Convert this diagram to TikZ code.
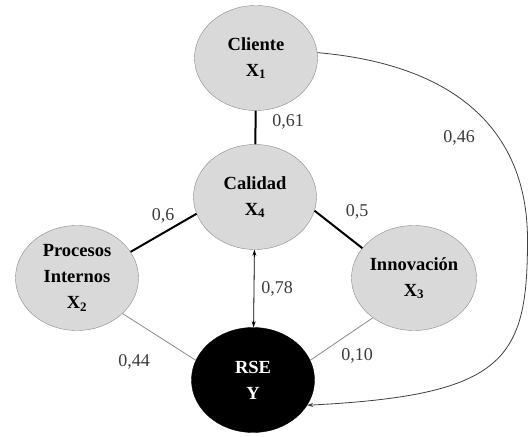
\documentclass[tikz,border=0pt]{standalone}
\usepackage{fontspec}
\setmainfont{Liberation Serif}
\usepackage{tikz}
\usetikzlibrary{shapes.geometric, arrows.meta}

\definecolor{varfill}{HTML}{D9D9D9}
\definecolor{varline}{HTML}{8A8A8A}
\definecolor{labtext}{HTML}{3A3A3A}

\tikzset{
    var/.style={draw=varline, fill=varfill, ellipse, minimum width=123pt, minimum height=105pt,
        inner sep=0pt, align=center, font=\fontsize{18.5}{26}\selectfont\bfseries},
    target/.style={var, draw=black, fill=black, text=white},
    coef/.style={font=\fontsize{18}{20}\selectfont, text=labtext},
    strong/.style={line width=2pt, black},
    weak/.style={line width=0.8pt, varline}
}

\begin{document}
\begin{tikzpicture}[x=1pt, y=1pt]
    \useasboundingbox (0, 0) rectangle (529, 436);

    \node[var] at (256, 378) (C) {Cliente\\X\textsubscript{1}};
    \node[var] at (255, 239) (Q) {Calidad\\X\textsubscript{4}};
    \node[var] at (77, 158) (P) {Procesos\\Internos\\X\textsubscript{2}};
    \node[var] at (414, 158) (I) {Innovación\\X\textsubscript{3}};
    \node[target] at (253, 56) (Y) {RSE\\Y};

    \node[coef] at (288, 314) (c61) {0,61};
    \node[coef] at (163, 220) (c6) {0,6};
    \node[coef] at (357, 224) (c5) {0,5};
    \node[coef] at (277, 147) (c78) {0,78};
    \node[coef] at (134, 74) (c44) {0,44};
    \node[coef] at (357, 80) (c10) {0,10};
    \node[coef] at (459, 298) (c46) {0,46};

    \coordinate (bend) at (527.5, 196);

    \draw[strong] (C) -- (Q);
    \draw[strong] (Q.196) -- (P.26);
    \draw[strong] (Q.-13) -- (I.150);
    \draw[weak] (P.-38) -- (Y.161);
    \draw[weak] (I.224) -- (Y.19);
    \draw[line width=0.8pt, {Stealth[length=6pt, width=4pt]}-{Stealth[length=6pt, width=4pt]}] (Q) -- (Y);
    \draw[line width=0.8pt, black!75, -{Stealth[length=6pt, width=4pt]}]
        (C.5) .. controls +(138, -12) and +(0, 110) .. (bend)
        .. controls +(0, -120) and +(198, 10) .. (Y.-25);
\end{tikzpicture}
\end{document}
